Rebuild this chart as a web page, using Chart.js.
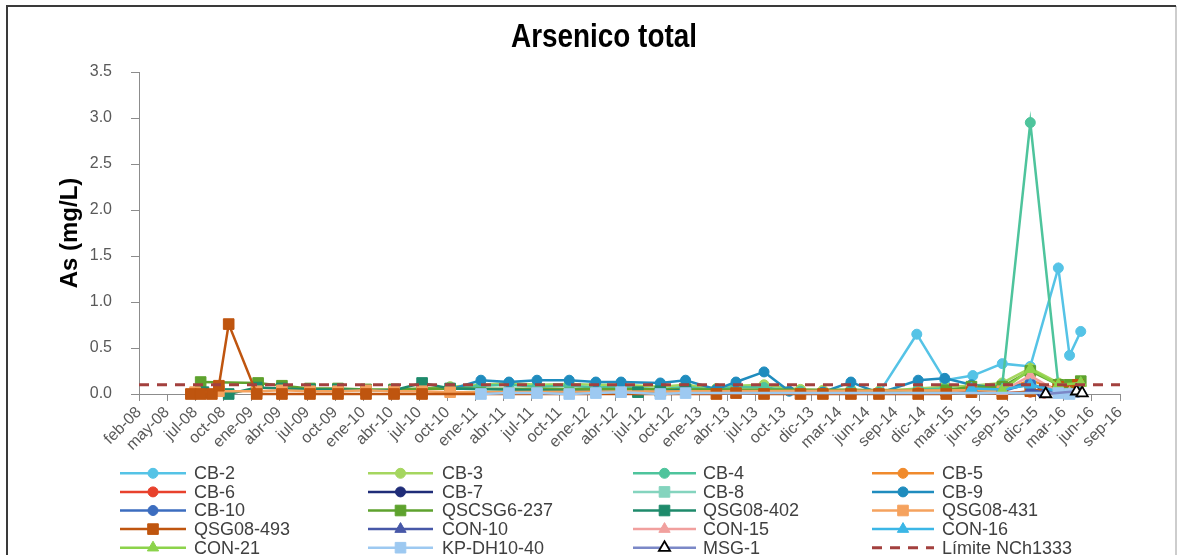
<!DOCTYPE html>
<html>
<head>
<meta charset="utf-8">
<script src="https://cdn.jsdelivr.net/npm/chart.js@4/dist/chart.umd.min.js"></script>
<style>
html,body{margin:0;padding:0;background:#fff;}
#wrap{position:relative;width:1181px;height:555px;overflow:hidden;}
</style>
</head>
<body>
<div id="wrap"><canvas id="c" width="1181" height="555"></canvas></div>
<script>
// ---- Tick labels (x axis: one tick every 90 days, index units) ----
const tickLabels = ['feb-08','may-08','jul-08','oct-08','ene-09','abr-09','jul-09','oct-09','ene-10','abr-10','jul-10','oct-10','ene-11','abr-11','jul-11','oct-11','ene-12','abr-12','jul-12','oct-12','ene-13','abr-13','jul-13','oct-13','dic-13','mar-14','jun-14','sep-14','dic-14','mar-15','jun-15','sep-15','dic-15','mar-16','jun-16','sep-16'];
const yTickValues = [0, 0.5, 1.0, 1.5, 2.0, 2.5, 3.0, 3.5];

// ---- Series (x = position in tick-interval units, y = As mg/L) ----
const cb2X = [26.4, 27.75, 28.75, 29.75, 30.8, 31.8, 32.8, 33.2, 33.6];
const cb2Y = [0.01, 0.65, 0.15, 0.20, 0.33, 0.30, 1.37, 0.42, 0.68];

const cb3X = [10.1, 11.1, 12.2, 13.2, 14.2, 15.35, 16.3, 17.2, 18.6, 19.5, 20.6, 21.3, 22.3, 23.6, 24.4, 25.4, 26.4, 27.8, 28.75, 29.7, 30.8, 31.8, 32.8, 33.6];
const cb3Y = [0.06, 0.08, 0.10, 0.12, 0.10, 0.11, 0.10, 0.10, 0.08, 0.10, 0.06, 0.09, 0.10, 0.05, 0.04, 0.05, 0.03, 0.06, 0.08, 0.09, 0.12, 0.28, 0.12, 0.13];

const cb4X = [11.1, 12.2, 13.2, 14.2, 15.35, 16.3, 17.2, 18.6, 19.5, 20.6, 21.3, 22.3, 23.6, 24.4, 25.4, 26.4, 27.8, 28.75, 29.7, 30.8, 31.8, 32.8];
const cb4Y = [0.06, 0.09, 0.10, 0.08, 0.09, 0.07, 0.08, 0.05, 0.08, 0.04, 0.08, 0.07, 0.03, 0.02, 0.04, 0.02, 0.05, 0.06, 0.05, 0.10, 2.95, 0.10];

const cb5X = [27.8, 28.75, 29.7, 30.8, 31.8, 32.8];
const cb5Y = [0.02, 0.03, 0.06, 0.04, 0.15, 0.05];

const cb6X = [27.8, 28.75, 29.7, 30.8, 31.8, 32.3];
const cb6Y = [0.01, 0.01, 0.02, 0.01, 0.02, 0.01];

const cb7X = [32.2, 33.4];
const cb7Y = [0.02, 0.03];

const cb8X = [29.7, 30.8, 31.8, 32.8];
const cb8Y = [0.04, 0.05, 0.10, 0.05];

const cb9X = [11.1, 12.2, 13.2, 14.2, 15.35, 16.3, 17.2, 18.6, 19.5, 20.6, 21.3, 22.3, 23.2, 24.4, 25.4, 26.4, 27.8, 28.75, 29.7, 30.8, 31.8];
const cb9Y = [0.05, 0.15, 0.13, 0.15, 0.15, 0.13, 0.13, 0.12, 0.15, 0.05, 0.13, 0.24, 0.03, 0.02, 0.13, 0.01, 0.15, 0.17, 0.10, 0.06, 0.12];

const cb10X = [30.8, 31.8, 32.3, 33.5];
const cb10Y = [0.03, 0.12, 0.04, 0.02];

const qscsg6237X = [2.2, 4.25, 5.1, 6.1, 7.1, 8.1, 9.1, 10.1, 28.8, 29.7, 30.8, 31.8, 32.8, 33.2, 33.6];
const qscsg6237Y = [0.13, 0.12, 0.09, 0.06, 0.06, 0.05, 0.05, 0.06, 0.04, 0.08, 0.08, 0.25, 0.10, 0.10, 0.14];

const qsg08402X = [2.3, 3.2, 4.2, 5.1, 6.1, 7.1, 8.1, 9.1, 10.1, 11.1, 17.8, 18.6, 19.5];
const qsg08402Y = [0.02, 0.00, 0.07, 0.06, 0.05, 0.05, 0.04, 0.04, 0.12, 0.06, 0.02, 0.03, 0.05];

const qsg08431X = [2.0, 2.85, 4.2, 5.1, 6.1, 7.1, 8.1, 9.1, 10.1, 11.1, 29.7, 30.8];
const qsg08431Y = [0.02, 0.03, 0.03, 0.04, 0.03, 0.03, 0.04, 0.03, 0.03, 0.02, 0.04, 0.03];

const qsg08493X = [1.85, 2.2, 2.6, 2.85, 3.2, 4.2, 5.1, 6.1, 7.1, 8.1, 9.1, 10.1, 20.6, 21.3, 22.3, 23.6, 24.4, 25.4, 26.4, 27.8, 28.8, 29.7, 30.8, 31.8, 32.8, 33.5];
const qsg08493Y = [0.00, 0.00, 0.00, 0.09, 0.76, 0.00, 0.00, 0.00, 0.00, 0.00, 0.00, 0.00, 0.00, 0.01, 0.00, 0.00, 0.00, 0.00, 0.00, 0.00, 0.00, 0.02, 0.00, 0.03, 0.08, 0.10];

const con10X = [31.8, 32.3, 33.5];
const con10Y = [0.05, 0.01, 0.02];

const con15X = [30.8, 31.8, 32.8, 33.2];
const con15Y = [0.03, 0.20, 0.02, 0.01];

const con16X = [29.7, 30.8, 31.8, 32.8, 33.6];
const con16Y = [0.06, 0.05, 0.10, 0.03, 0.04];

const con21X = [30.8, 31.8, 32.8, 33.6];
const con21Y = [0.04, 0.27, 0.10, 0.12];

const kpdh1040X = [12.2, 13.2, 14.2, 15.35, 16.3, 17.2, 18.6, 19.5, 32.8, 33.2];
const kpdh1040Y = [0.00, 0.01, 0.01, 0.00, 0.01, 0.02, 0.00, 0.01, 0.01, 0.00];

const msg1X = [32.35, 33.45, 33.65];
const msg1Y = [0.00, 0.03, 0.01];

const limitX = [0, 35];
const limitY = [0.1, 0.1];

// ---- build datasets ----
const FONT = "'Liberation Sans', Arial, sans-serif";
const seriesDefs = [
  ['CB-2', cb2X, cb2Y, '#55C3E6', 'circle'],
  ['CB-3', cb3X, cb3Y, '#A5D65F', 'circle'],
  ['CB-4', cb4X, cb4Y, '#4EC49C', 'circle'],
  ['CB-5', cb5X, cb5Y, '#F08A2C', 'circle'],
  ['CB-6', cb6X, cb6Y, '#E8412C', 'circle'],
  ['CB-7', cb7X, cb7Y, '#1F2C78', 'circle'],
  ['CB-8', cb8X, cb8Y, '#84D4BE', 'rect'],
  ['CB-9', cb9X, cb9Y, '#1F8CBE', 'circle'],
  ['CB-10', cb10X, cb10Y, '#3C6DBF', 'circle'],
  ['QSCSG6-237', qscsg6237X, qscsg6237Y, '#5EA22E', 'rect'],
  ['QSG08-402', qsg08402X, qsg08402Y, '#1E8A6B', 'rect'],
  ['QSG08-431', qsg08431X, qsg08431Y, '#F5A25E', 'rect'],
  ['QSG08-493', qsg08493X, qsg08493Y, '#BF550F', 'rect'],
  ['CON-10', con10X, con10Y, '#4758A8', 'triangle'],
  ['CON-15', con15X, con15Y, '#F1A09E', 'triangle'],
  ['CON-16', con16X, con16Y, '#3BB6E6', 'triangle'],
  ['CON-21', con21X, con21Y, '#8CD34B', 'triangle'],
  ['KP-DH10-40', kpdh1040X, kpdh1040Y, '#9DC9F1', 'rect'],
  ['MSG-1', msg1X, msg1Y, '#7B88C7', 'triangle']
];
const radiusFor = s => s === 'circle' ? 5 : (s === 'rect' ? 7.5 : 6.5);

const datasets = seriesDefs.map((d, i) => {
  const isMsg = d[0] === 'MSG-1';
  return {
    label: d[0],
    data: d[1].map((x, k) => ({x: x, y: d[2][k]})),
    borderColor: d[3],
    backgroundColor: d[3],
    borderWidth: 2.5,
    pointStyle: d[4],
    pointRadius: radiusFor(d[4]),
    pointBackgroundColor: isMsg ? '#ffffff' : d[3],
    pointBorderColor: isMsg ? '#000000' : d[3],
    pointBorderWidth: isMsg ? 1.8 : 1,
    tension: 0,
    clip: false,
    order: -i,
    _style: d[4]
  };
});
datasets.push({
  label: 'Límite NCh1333',
  data: limitX.map((x, k) => ({x: x, y: limitY[k]})),
  borderColor: '#A3403E',
  backgroundColor: '#A3403E',
  borderWidth: 3,
  borderDash: [10, 8],
  pointRadius: 0,
  tension: 0,
  clip: false,
  order: -100,
  _style: 'none'
});

function drawMarker(ctx, style, x, y, r, fill, stroke, lw) {
  ctx.beginPath();
  if (style === 'circle') {
    ctx.arc(x, y, r, 0, Math.PI * 2);
  } else if (style === 'rect') {
    const s = r * Math.SQRT1_2;
    ctx.rect(x - s, y - s, 2 * s, 2 * s);
  } else if (style === 'triangle') {
    let a = 0;
    ctx.moveTo(x + Math.sin(a) * r, y - Math.cos(a) * r);
    a += 2 * Math.PI / 3;
    ctx.lineTo(x + Math.sin(a) * r, y - Math.cos(a) * r);
    a += 2 * Math.PI / 3;
    ctx.lineTo(x + Math.sin(a) * r, y - Math.cos(a) * r);
  } else return;
  ctx.closePath();
  ctx.fillStyle = fill; ctx.fill();
  ctx.lineWidth = lw; ctx.strokeStyle = stroke; ctx.stroke();
}

const frameAndLegend = {
  id: 'frameAndLegend',
  beforeDraw(chart) {
    const ctx = chart.ctx;
    ctx.save();
    ctx.fillStyle = '#ffffff';
    ctx.fillRect(0, 0, chart.width, chart.height);
    ctx.restore();
  },
  afterDraw(chart) {
    const ctx = chart.ctx;
    ctx.save();
    // frame
    ctx.strokeStyle = '#bdbdbd';
    ctx.lineWidth = 1.5;
    ctx.beginPath(); ctx.moveTo(1176, 6); ctx.lineTo(1176, 560); ctx.stroke();
    ctx.strokeStyle = '#3a3a3a';
    ctx.lineWidth = 2;
    ctx.beginPath(); ctx.moveTo(7, 560); ctx.lineTo(7, 6); ctx.lineTo(1176, 6); ctx.stroke();
    // title (condensed bold)
    ctx.save();
    ctx.translate(604, 38);
    ctx.scale(0.82, 1);
    ctx.fillStyle = '#000000';
    ctx.font = "bold 34px 'Liberation Sans', Arial, sans-serif";
    ctx.textAlign = 'center';
    ctx.textBaseline = 'middle';
    ctx.fillText('Arsenico total', 0, 0);
    ctx.restore();
    // legend
    const colLine = [[120, 186], [368, 433], [633, 696], [872, 934]];
    const colText = [194, 442, 703, 942];
    const y0 = 473.3, dy = 18.6;
    ctx.font = '18px ' + FONT;
    ctx.textAlign = 'left';
    chart.data.datasets.forEach((ds, i) => {
      const col = i % 4, row = Math.floor(i / 4);
      const y = y0 + row * dy;
      const [x1, x2] = colLine[col];
      ctx.save();
      ctx.strokeStyle = ds.borderColor;
      ctx.lineWidth = ds.borderWidth;
      if (ds.borderDash) ctx.setLineDash(ds.borderDash);
      ctx.beginPath(); ctx.moveTo(x1, y); ctx.lineTo(x2, y); ctx.stroke();
      ctx.restore();
      if (ds._style !== 'none') {
        drawMarker(ctx, ds._style, (x1 + x2) / 2, y, ds.pointRadius,
          ds.pointBackgroundColor, ds.pointBorderColor, ds.pointBorderWidth);
      }
      ctx.fillStyle = '#404040';
      ctx.textBaseline = 'middle';
      ctx.fillText(ds.label, colText[col], y + 1);
    });
    ctx.restore();
  }
};

new Chart(document.getElementById('c'), {
  type: 'line',
  data: { datasets: datasets },
  plugins: [frameAndLegend],
  options: {
    responsive: false,
    animation: false,
    events: [],
    layout: { padding: { top: 72, right: 61, bottom: 95, left: 0 } },
    plugins: { legend: { display: false }, title: { display: false }, tooltip: { enabled: false } },
    scales: {
      x: {
        type: 'linear', min: 0, max: 35,
        afterBuildTicks: s => { s.ticks = tickLabels.map((_, i) => ({ value: i })); },
        afterFit: s => { s.height = 66; },
        ticks: {
          autoSkip: false, maxRotation: 45, minRotation: 45, padding: 2,
          color: '#595959', font: { size: 16, family: FONT },
          callback: (v, i) => tickLabels[i]
        },
        grid: { drawOnChartArea: false, tickLength: 7, color: '#8c8c8c', lineWidth: 1 },
        border: { color: '#8c8c8c', width: 1 }
      },
      y: {
        type: 'linear', min: 0, max: 3.5,
        afterBuildTicks: s => { s.ticks = yTickValues.map(v => ({ value: v })); },
        afterFit: s => { s.width = 139; },
        ticks: {
          padding: 19, color: '#595959', font: { size: 16, family: FONT },
          callback: v => Number(v).toFixed(1)
        },
        grid: { drawOnChartArea: false, tickLength: 8, color: '#8c8c8c', lineWidth: 1 },
        border: { color: '#8c8c8c', width: 1 },
        title: {
          display: true, text: 'As (mg/L)', color: '#000000',
          font: { size: 24, weight: 'bold', family: FONT },
          padding: { top: 56, bottom: 0 }
        }
      }
    }
  }
});
</script>
</body>
</html>
